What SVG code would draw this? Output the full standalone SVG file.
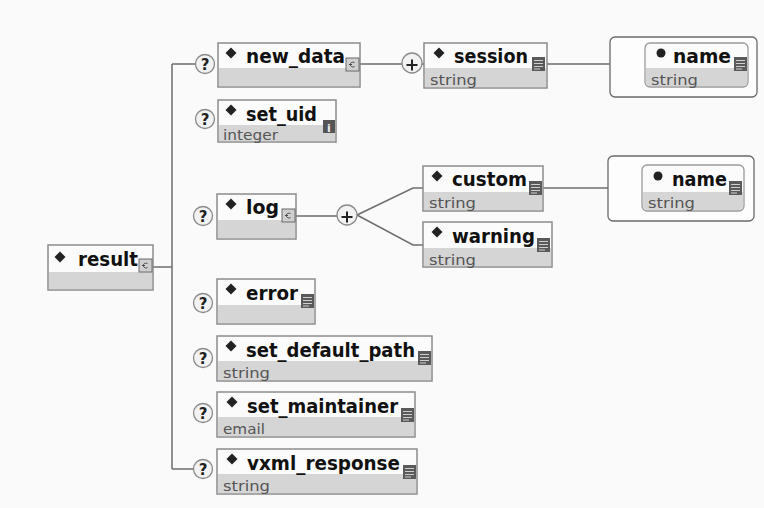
<svg xmlns="http://www.w3.org/2000/svg" width="764" height="508" viewBox="0 0 764 508">
<style>
.bg{fill:#fafafa}
.box{fill:#fbfbfb;stroke:#8c8c8c;stroke-width:1.5}
.low{fill:#d5d5d5}
.rbox{fill:#fdfdfd;stroke:#6a6a6a;stroke-width:1.3}
.ibox{fill:#fbfbfb;stroke:#9a9a9a;stroke-width:1.3}
.ln{stroke:#6e6e6e;stroke-width:1.5;fill:none}
.nm{font-family:"DejaVu Sans",sans-serif;font-weight:bold;font-size:19px;fill:#111}
.ty{font-family:"DejaVu Sans",sans-serif;font-size:14.5px;fill:#555}
.q{fill:#f2f2f2;stroke:#8a8a8a;stroke-width:1.3}
.qt{font-family:"DejaVu Sans",sans-serif;font-weight:bold;font-size:15px;fill:#222;text-anchor:middle}
.dia{fill:#222}
.doc{fill:#5a5a5a}
.docl{stroke:#cfcfcf;stroke-width:1}
.cx{fill:#cfcfcf;stroke:#6a6a6a;stroke-width:1}
.cxg{stroke:#444;stroke-width:1;fill:none}
</style>
<defs>
<g id="q"><circle r="9.5" class="q"/><text y="5.5" class="qt">?</text></g>
<g id="plus"><circle r="10" class="q"/><path d="M-5.5 2h11M0 -3.5v11" stroke="#222" stroke-width="2"/></g>
<path id="d" d="M0 -5.5L5.5 0L0 5.5L-5.5 0Z" class="dia"/>
<g id="doc"><rect width="13" height="14" class="doc"/><path d="M2 3.5h9M2 6.5h9M2 9.5h9M2 12h6" class="docl"/></g>
<g id="cx"><rect width="13" height="13" class="cx"/><path d="M8.5 4.5c-3 -1 -5 1 -4 3c0.8 1.5 3 2 4 1M3 6.5h3" class="cxg"/></g>
</defs>
<rect width="764" height="508" class="bg"/>

<g id="connectors">
<path class="ln" d="M153 267H172M172 64V469M172 64H195M172 469H193"/>
<path class="ln" d="M360 64H402M422 64H424"/>
<path class="ln" d="M547 64H610"/>
<path class="ln" d="M296 216H337M357 215L413 188H423M357 215L413 245H423"/>
<path class="ln" d="M543 188H608"/>
</g>

<g id="result">
<rect x="48" y="245" width="105" height="45" class="box"/>
<rect x="49" y="272" width="103" height="17" class="low"/>
<use href="#d" x="60" y="257"/>
<text x="78" y="266" class="nm" textLength="60" lengthAdjust="spacingAndGlyphs">result</text>
<use href="#cx" x="139" y="259"/>
</g>

<g id="new_data">
<use href="#q" x="205" y="64"/>
<rect x="218" y="43" width="142" height="44" class="box"/>
<rect x="219" y="68" width="140" height="18" class="low"/>
<use href="#d" x="231" y="53"/>
<text x="246" y="63" class="nm" textLength="99" lengthAdjust="spacingAndGlyphs">new_data</text>
<use href="#cx" x="346" y="58"/>
</g>

<g id="set_uid">
<use href="#q" x="205" y="119"/>
<rect x="218" y="100" width="118" height="42" class="box"/>
<rect x="219" y="125" width="116" height="16" class="low"/>
<use href="#d" x="231" y="110"/>
<text x="246" y="121" class="nm" textLength="71" lengthAdjust="spacingAndGlyphs">set_uid</text>
<text x="223" y="140" class="ty" textLength="55" lengthAdjust="spacingAndGlyphs">integer</text>
<rect x="323" y="120" width="12" height="13" fill="#555"/>
<text x="329" y="131.5" font-family="DejaVu Sans,sans-serif" font-weight="bold" font-size="11" fill="#eee" text-anchor="middle">i</text>
</g>

<g id="session">
<use href="#plus" x="412" y="63"/>
<rect x="424" y="43" width="123" height="45" class="box"/>
<rect x="425" y="68" width="121" height="19" class="low"/>
<use href="#d" x="439" y="53"/>
<text x="454" y="63" class="nm" textLength="74" lengthAdjust="spacingAndGlyphs">session</text>
<text x="430" y="85" class="ty" textLength="47" lengthAdjust="spacingAndGlyphs">string</text>
<use href="#doc" x="532" y="57"/>
</g>

<g id="name1">
<rect x="610" y="37" width="147" height="60" rx="5" class="rbox"/>
<rect x="645" y="43" width="103" height="44" rx="5" class="ibox"/>
<path d="M646 68H747V82a4 4 0 0 1 -4 4H650a4 4 0 0 1 -4 -4Z" class="low"/>
<circle cx="661" cy="53" r="4.5" fill="#222"/>
<text x="673" y="63" class="nm" textLength="58" lengthAdjust="spacingAndGlyphs">name</text>
<text x="651" y="85" class="ty" textLength="47" lengthAdjust="spacingAndGlyphs">string</text>
<use href="#doc" x="734" y="57"/>
</g>

<g id="log">
<use href="#q" x="203" y="216"/>
<rect x="217" y="194" width="79" height="45" class="box"/>
<rect x="218" y="220" width="77" height="18" class="low"/>
<use href="#d" x="231" y="204"/>
<text x="246" y="214" class="nm" textLength="33" lengthAdjust="spacingAndGlyphs">log</text>
<use href="#cx" x="282" y="209"/>
</g>

<g id="seq">
<use href="#plus" x="347" y="215"/>
</g>

<g id="custom">
<rect x="423" y="166" width="120" height="45" class="box"/>
<rect x="424" y="192" width="118" height="18" class="low"/>
<use href="#d" x="437" y="176"/>
<text x="452" y="186" class="nm" textLength="75" lengthAdjust="spacingAndGlyphs">custom</text>
<text x="429" y="208" class="ty" textLength="47" lengthAdjust="spacingAndGlyphs">string</text>
<use href="#doc" x="529" y="181"/>
</g>

<g id="name2">
<rect x="608" y="156" width="146" height="65" rx="5" class="rbox"/>
<rect x="642" y="165" width="102" height="46" rx="5" class="ibox"/>
<path d="M643 192H743V206a4 4 0 0 1 -4 4H647a4 4 0 0 1 -4 -4Z" class="low"/>
<circle cx="658" cy="176" r="4.5" fill="#222"/>
<text x="672" y="186" class="nm" textLength="55" lengthAdjust="spacingAndGlyphs">name</text>
<text x="648" y="208" class="ty" textLength="47" lengthAdjust="spacingAndGlyphs">string</text>
<use href="#doc" x="729" y="181"/>
</g>

<g id="warning">
<rect x="423" y="222" width="129" height="45" class="box"/>
<rect x="424" y="248" width="127" height="18" class="low"/>
<use href="#d" x="437" y="232"/>
<text x="452" y="243" class="nm" textLength="83" lengthAdjust="spacingAndGlyphs">warning</text>
<text x="429" y="265" class="ty" textLength="47" lengthAdjust="spacingAndGlyphs">string</text>
<use href="#doc" x="537" y="238"/>
</g>

<g id="error">
<use href="#q" x="203" y="303"/>
<rect x="217" y="279" width="98" height="45" class="box"/>
<rect x="218" y="305" width="96" height="18" class="low"/>
<use href="#d" x="231" y="289"/>
<text x="246" y="300" class="nm" textLength="52" lengthAdjust="spacingAndGlyphs">error</text>
<use href="#doc" x="301" y="294"/>
</g>

<g id="set_default_path">
<use href="#q" x="203" y="358"/>
<rect x="217" y="336" width="215" height="45" class="box"/>
<rect x="218" y="361" width="213" height="19" class="low"/>
<use href="#d" x="231" y="346"/>
<text x="246" y="357" class="nm" textLength="169" lengthAdjust="spacingAndGlyphs">set_default_path</text>
<text x="223" y="378" class="ty" textLength="47" lengthAdjust="spacingAndGlyphs">string</text>
<use href="#doc" x="418" y="351"/>
</g>

<g id="set_maintainer">
<use href="#q" x="203" y="413"/>
<rect x="217" y="392" width="198" height="45" class="box"/>
<rect x="218" y="417" width="196" height="19" class="low"/>
<use href="#d" x="232" y="402"/>
<text x="247" y="413" class="nm" textLength="151" lengthAdjust="spacingAndGlyphs">set_maintainer</text>
<text x="223" y="434" class="ty" textLength="42" lengthAdjust="spacingAndGlyphs">email</text>
<use href="#doc" x="401" y="408"/>
</g>

<g id="vxml_response">
<use href="#q" x="203" y="469"/>
<rect x="217" y="449" width="200" height="45" class="box"/>
<rect x="218" y="474" width="198" height="19" class="low"/>
<use href="#d" x="232" y="459"/>
<text x="247" y="470" class="nm" textLength="153" lengthAdjust="spacingAndGlyphs">vxml_response</text>
<text x="223" y="491" class="ty" textLength="47" lengthAdjust="spacingAndGlyphs">string</text>
<use href="#doc" x="403" y="465"/>
</g>
</svg>
